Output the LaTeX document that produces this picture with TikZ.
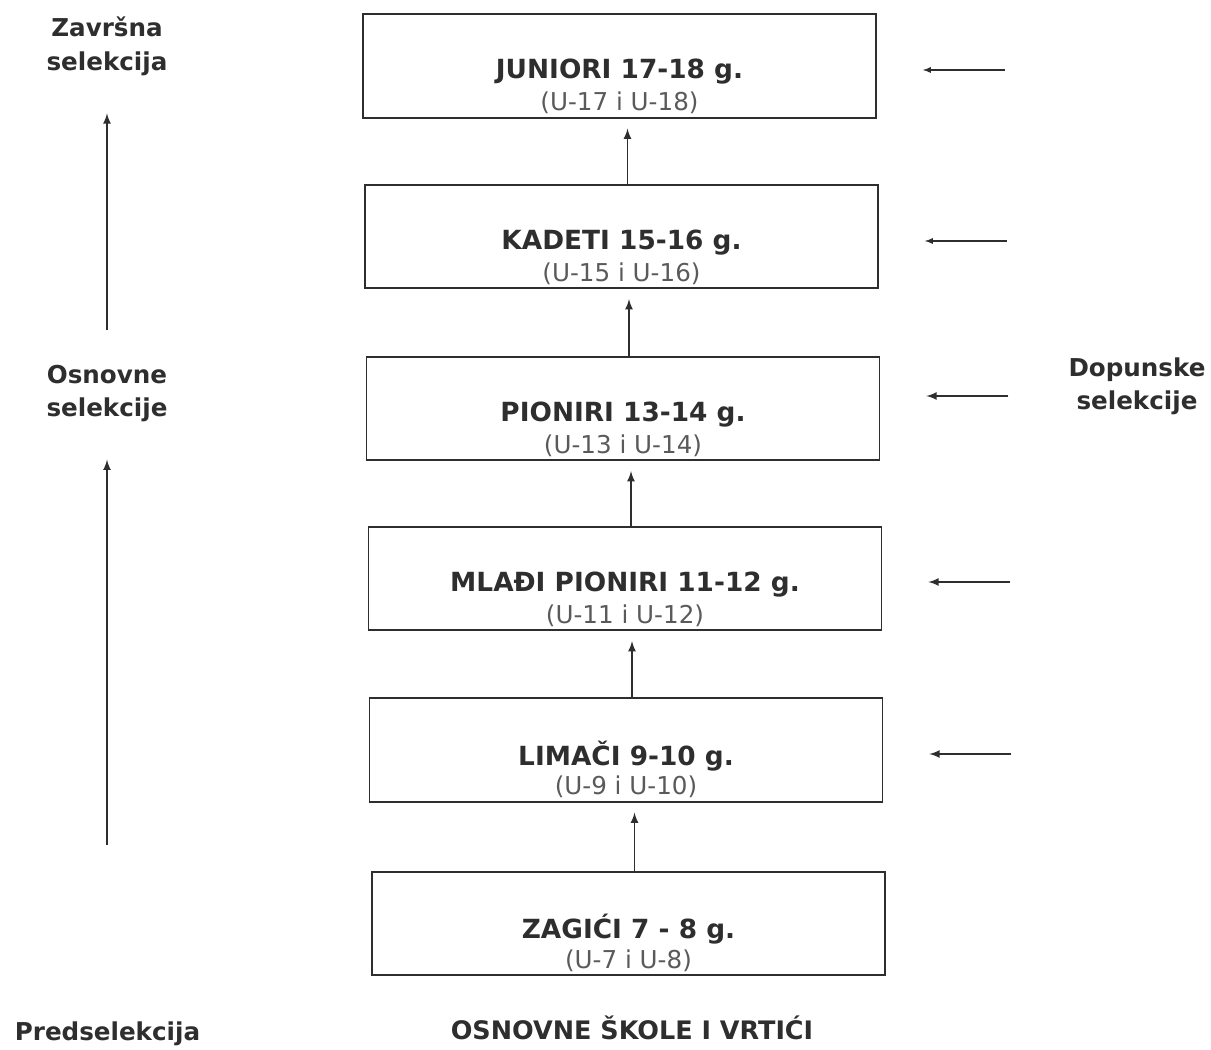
\documentclass[tikz,border=0pt]{standalone}
\usepackage{fontspec}
\setmainfont{DejaVu Sans}
\usetikzlibrary{positioning}
\definecolor{ink}{HTML}{2E2E2E}
\definecolor{soft}{HTML}{5A5A5A}

\begin{document}
\begin{tikzpicture}[>=latex,
        stage/.style={draw=ink, line width=1pt, minimum width=10.26cm, minimum height=2.07cm},
        title/.style={text=ink, font=\fontsize{15}{18}\selectfont\bfseries},
        sub/.style={text=soft, font=\fontsize{14}{17}\selectfont},
        side/.style={text=ink, align=center, font=\fontsize{14}{19}\selectfont\bfseries},
        up/.style={->, draw=ink, line width=1pt, shorten >=0.2cm},
        feed/.style={->, draw=ink, shorten >=0.92cm}]
        \useasboundingbox (0,0) rectangle (24.22,20.98);
        % age groups
        \foreach \n/\x/\y/\t/\s in {jun/12.39/19.66/JUNIORI 17-18 g./(U-17 i U-18),
            kad/12.43/16.25/KADETI 15-16 g./(U-15 i U-16),
            pio/12.46/12.81/PIONIRI 13-14 g./(U-13 i U-14),
            mpi/12.50/9.41/MLAĐI PIONIRI 11-12 g./(U-11 i U-12),
            lim/12.52/5.98/LIMAČI 9-10 g./(U-9 i U-10),
            zag/12.57/2.51/ZAGIĆI 7 - 8 g./(U-7 i U-8)}
        {
            \node[stage] (\n) at (\x,\y) {};
            \node[title] (\n-t) at ([yshift=-0.12cm]\n.center) {\t};
            \node[sub] (\n-s) at ([yshift=-0.74cm]\n.center) {\s};
        }
        \foreach \a/\b in {kad/jun, pio/kad, mpi/pio, lim/mpi, zag/lim}
            \draw[up] ([xshift=0.12cm]\a.north) -- ([xshift=0.12cm]\a.north |- \b.south);
        % supplementary selections
        \foreach \n/\d/\w in {jun/-0.08/0.6pt, kad/-0.09/0.6pt, pio/0.25/1pt, mpi/-0.07/1pt, lim/-0.08/1pt}
            \draw[feed, line width=\w] ([xshift=2.56cm, yshift=\d cm]\n.east) -- ([yshift=\d cm]\n.east);
        \node[side] (dop) at (22.74,13.25) {Dopunske\\selekcije};
        % left column
        \node[side] (zav) at (2.14,20.05) {Završna\\selekcija};
        \node[side] (osn) at (2.14,13.11) {Osnovne\\selekcije};
        \node[side] (pred) at (2.15,0.30) {Predselekcija};
        \coordinate (predTop) at (2.14,4.08);
        \draw[->, draw=ink, line width=1pt, shorten <=0.57cm, shorten >=0.63cm] (osn) -- (zav);
        \draw[->, draw=ink, line width=1pt, shorten >=0.63cm] (predTop) -- (osn);
        \node[side, font=\fontsize{14.5}{19}\selectfont\bfseries] (osk) at (12.64,0.42) {OSNOVNE ŠKOLE I VRTIĆI};
    \end{tikzpicture}
\end{document}
